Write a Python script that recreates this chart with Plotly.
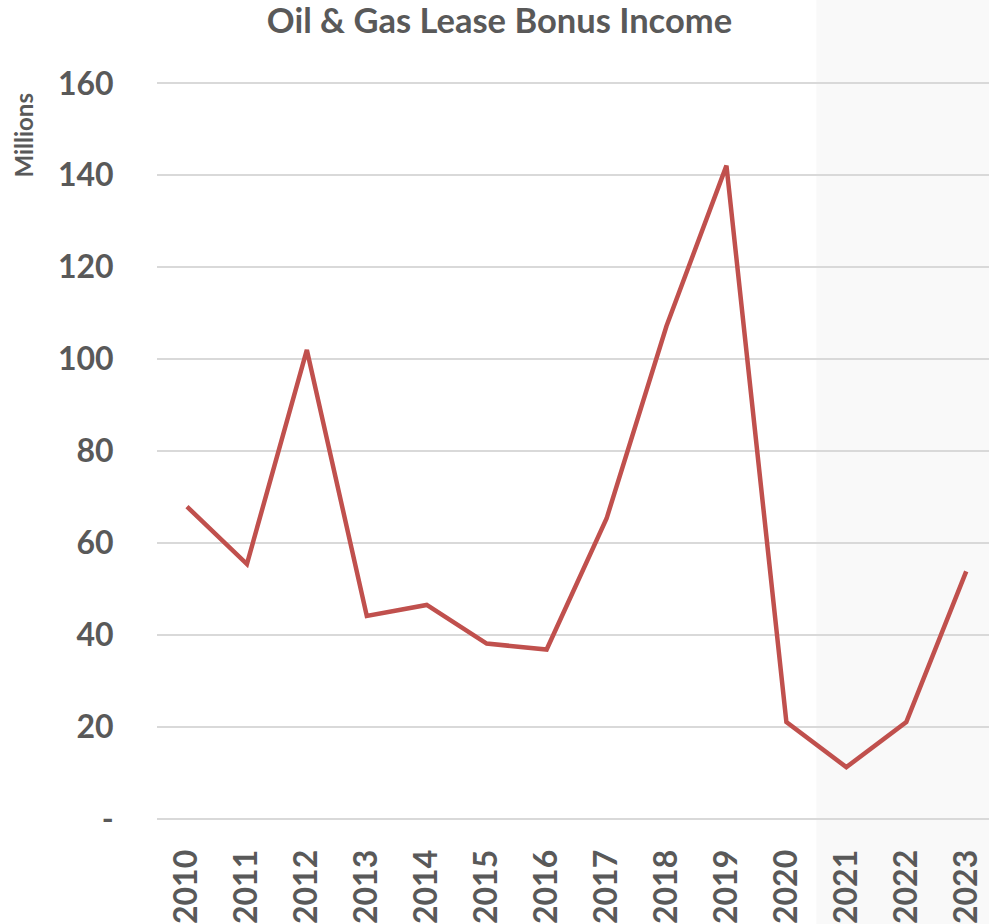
import plotly.graph_objects as go

years = ["2010", "2011", "2012", "2013", "2014", "2015", "2016",
         "2017", "2018", "2019", "2020", "2021", "2022", "2023"]
income_millions = [67.9, 55.4, 102.0, 44.1, 46.5, 38.1, 36.8,
                   65.3, 107.2, 142.1, 21.0, 11.2, 21.0, 53.8]
y_tick_values = [0, 20, 40, 60, 80, 100, 120, 140, 160]
y_tick_labels = ["-", "20", "40", "60", "80", "100", "120", "140", "160"]

grey = "#595959"
font_family = "Lato, 'Open Sans', sans-serif"

fig = go.Figure()
fig.add_trace(go.Scatter(
    x=list(range(len(years))), y=income_millions, mode="lines",
    line=dict(color="#c0504d", width=4.5),
    hoverinfo="x+y", showlegend=False,
))

# shaded projection region (from between 2020 and 2021 to the right)
fig.add_shape(type="rect", xref="x", yref="paper",
              x0=10.5, x1=14, y0=-0.2, y1=1.2,
              fillcolor="#f9f9f9", line=dict(width=0), layer="below")

fig.update_layout(
    width=989, height=924,
    margin=dict(l=157, r=0, t=81.6, b=99.6),
    paper_bgcolor="white", plot_bgcolor="rgba(0,0,0,0)",
    title=dict(text="<b>Oil &amp; Gas Lease Bonus Income</b>",
               x=0.505, xanchor="center", y=0.977, yanchor="middle",
               font=dict(family=font_family, size=34.5, color=grey)),
    font=dict(family=font_family, color=grey),
    xaxis=dict(
        range=[-0.5, 13.38], tickmode="array",
        tickvals=list(range(len(years))),
        ticktext=[f"<b>{y}</b>" for y in years],
        tickangle=-90, tickfont=dict(size=32, color=grey),
        showgrid=False, zeroline=False, showline=False,
        ticks="outside", ticklen=16, tickcolor="rgba(0,0,0,0)",
    ),
    yaxis=dict(
        range=[-0.3, 160.3], tickmode="array",
        tickvals=y_tick_values,
        ticktext=[f"<b>{t}</b>" for t in y_tick_labels],
        tickfont=dict(size=32, color=grey),
        showgrid=True, gridcolor="#d9d9d9", gridwidth=1.5,
        zeroline=False, showline=False, ticks="outside", ticklen=36,
        tickcolor="rgba(0,0,0,0)",
    ),
)

fig.add_annotation(
    text="<b>Millions</b>", xref="paper", yref="paper",
    x=-157/832, y=1 - (135 - 81.6) / 742.8, xanchor="left", yanchor="middle",
    xshift=7, textangle=-90, showarrow=False,
    font=dict(family=font_family, size=24, color=grey),
)

fig.write_html("out.html", config={"displayModeBar": False},
               post_script="document.body.style.margin='0';")
